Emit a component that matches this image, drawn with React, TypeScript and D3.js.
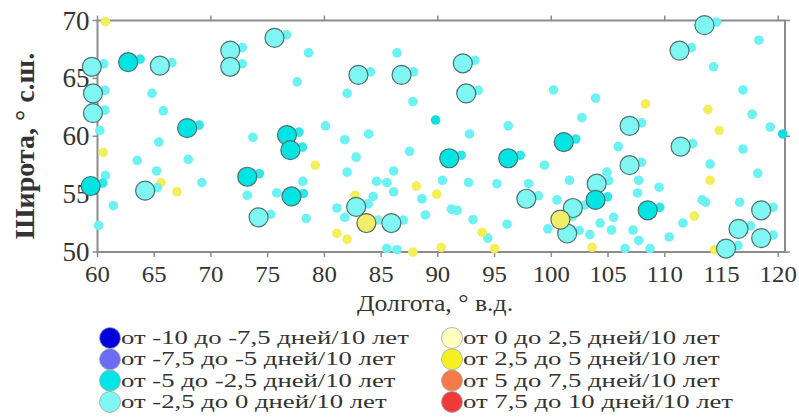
import React from 'react';
import * as d3 from 'd3';

// stations with a significant trend (big circles), [lon, lat]
const sigLight: [number, number][] = [
  [59.5, 66.0], [59.6, 63.7], [59.6, 62.0], [65.5, 66.1], [64.2, 55.3], [71.7, 67.4],
  [71.7, 66.0], [74.2, 53.0], [75.6, 68.5], [83.0, 65.3], [82.8, 53.9], [85.9, 52.5],
  [86.8, 65.3], [92.2, 66.3], [92.5, 63.7], [97.8, 54.6], [101.9, 53.8], [101.4, 51.6],
  [104.0, 55.9], [106.9, 60.9], [106.9, 57.5], [111.3, 67.4], [111.4, 59.1], [113.5, 69.6],
  [115.4, 50.3], [116.5, 52.0], [118.5, 53.6], [118.5, 51.2],
];
const sigCyan: [number, number][] = [
  [59.4, 55.7], [62.7, 66.4], [67.9, 60.7], [73.2, 56.5], [76.7, 60.1], [77.0, 58.8],
  [77.1, 54.8], [91.0, 58.1], [96.2, 58.1], [101.1, 59.5], [103.9, 54.5], [108.5, 53.6],
];
const sigYellow: [number, number][] = [[83.7, 52.5], [100.8, 52.8]];

// other stations (small dots)
const dotsLight: [number, number][] = [
  [60.2, 60.5], [60.7, 56.6], [61.4, 54.0], [60.1, 52.3], [64.8, 63.7], [65.8, 62.2],
  [65.4, 59.5], [63.5, 57.9], [65.2, 57.0], [68.0, 58.0], [69.2, 56.0], [73.7, 59.9],
  [73.2, 54.9], [75.8, 55.1], [77.6, 64.7], [78.6, 67.2], [78.1, 56.1], [78.4, 52.9],
  [80.1, 60.9], [82.0, 63.7], [81.8, 59.7], [82.0, 56.9], [82.8, 58.2], [83.9, 60.2],
  [81.1, 53.8], [81.8, 53.0], [84.3, 54.8], [84.6, 56.1], [85.5, 56.0], [86.1, 55.2],
  [86.4, 67.2], [87.5, 58.7], [86.1, 57.0], [85.5, 50.3], [86.4, 50.2], [87.8, 63.0],
  [88.6, 54.6], [88.9, 53.2], [91.2, 53.7], [91.7, 53.6], [90.4, 56.2], [92.7, 56.0],
  [93.1, 52.8], [94.4, 51.2], [95.2, 55.9], [96.1, 52.4], [98.0, 55.9], [99.4, 57.5],
  [99.7, 52.0], [92.8, 60.2], [96.2, 60.9], [100.2, 64.0], [102.7, 61.6], [103.9, 63.3],
  [105.9, 59.1], [104.9, 56.9], [101.6, 56.2], [100.5, 54.5], [103.4, 51.5], [104.3, 52.5],
  [105.5, 53.0], [105.3, 51.9], [106.5, 50.3], [107.2, 51.9], [107.7, 51.0], [107.7, 56.2],
  [107.6, 55.1], [108.7, 50.3], [109.5, 55.6], [110.4, 51.3], [111.6, 52.5], [114.0, 57.6],
  [113.3, 54.5], [113.6, 54.3], [114.3, 66.0], [116.9, 64.0], [117.7, 61.9], [119.3, 60.8],
  [118.3, 68.3], [116.9, 58.9], [118.2, 56.8], [116.6, 54.3],
];
const dotsCyan: [number, number][] = [[89.8, 61.4], [120.4, 60.2]];
const dotsYellow: [number, number][] = [
  [60.7, 69.9], [60.5, 58.6], [65.6, 56.0], [67.0, 55.2], [79.2, 57.5], [81.1, 51.6],
  [82.0, 51.1], [82.7, 54.9], [88.1, 55.7], [89.9, 55.0], [90.3, 50.4], [87.8, 50.0],
  [93.9, 51.7], [95.0, 50.3], [103.6, 50.4], [108.3, 62.8], [112.6, 53.1], [113.8, 62.3],
  [114.8, 60.5], [114.0, 56.2], [114.4, 50.2],
];

const xTicks = [60, 65, 70, 75, 80, 85, 90, 95, 100, 105, 110, 115, 120];
const yTicks = [50, 55, 60, 65, 70];
const topTicks = [60, 70, 80, 90, 100, 110, 120];
const rightTicks = [50, 60, 70];

const legendLabels = [
  'от -10 до -7,5 дней/10 лет',
  'от -7,5 до -5 дней/10 лет',
  'от -5 до -2,5 дней/10 лет',
  'от -2,5 до 0 дней/10 лет',
  'от 0 до 2,5 дней/10 лет',
  'от 2,5 до 5 дней/10 лет',
  'от 5 до 7,5 дней/10 лет',
  'от 7,5 до 10 дней/10 лет',
];
const legendColors = ['#0000dd', '#6b6bf5', '#00e6e6', '#80f6f4', '#ffffc0', '#f6f020', '#f57a48', '#f03a3a'];

const W = 799;
const H = 418;
const font = '"Liberation Serif", "Times New Roman", serif';
const axisColor = '#8c8c8c';
const textColor = '#333';

export default function App() {
  const x = d3.scaleLinear().domain([60, 120.6]).range([97.5, 785]);
  const y = d3.scaleLinear().domain([50, 70]).range([252, 20.5]);
  const [x0, x1] = x.range();
  const [y0, y1] = y.range();

  const dot = (d: [number, number], fill: string, i: number, key: string, dx = 0, dy = 0) => (
    <circle key={key + i} cx={x(d[0]) + dx} cy={y(d[1]) + dy} r={4.8} fill={fill} />
  );
  const big = (d: [number, number], fill: string, i: number, key: string) => (
    <circle key={key + i} cx={x(d[0])} cy={y(d[1])} r={9.5} fill={fill} stroke="#4f7070" strokeWidth={1.2} />
  );

  return (
    <svg width={W} height={H} style={{ position: 'absolute', left: 0, top: 0, background: '#fff' }}>
      {/* frame */}
      <rect x={x0} y={y1} width={x1 - x0} height={y0 - y1} fill="none" stroke={axisColor} strokeWidth={2} />
      {xTicks.map(t => (
        <g key={'xt' + t}>
          <line x1={x(t)} x2={x(t)} y1={y0} y2={y0 + 5} stroke={axisColor} strokeWidth={1.5} />
          <text transform={`translate(${x(t)}, ${y0 + 30}) scale(1.08, 1)`} textAnchor="middle" fontFamily={font}
            fontSize={23} fill={textColor}>{t}</text>
        </g>
      ))}
      {topTicks.map(t => (
        <line key={'tt' + t} x1={x(t)} x2={x(t)} y1={y1} y2={y1 - 5} stroke={axisColor} strokeWidth={1.5} />
      ))}
      {yTicks.map(t => (
        <g key={'yt' + t}>
          <line x1={x0} x2={x0 - 5} y1={y(t)} y2={y(t)} stroke={axisColor} strokeWidth={1.5} />
          <text x={x0 - 8} y={y(t) + 9} textAnchor="end" fontFamily={font} fontSize={27} fill={textColor}>{t}</text>
        </g>
      ))}
      {rightTicks.map(t => (
        <line key={'rt' + t} x1={x1} x2={x1 + 5} y1={y(t)} y2={y(t)} stroke={axisColor} strokeWidth={1.5} />
      ))}

      {/* small dots */}
      {dotsLight.map((d, i) => dot(d, '#6cf2f2', i, 'dl'))}
      {dotsCyan.map((d, i) => dot(d, '#10dede', i, 'dc'))}
      {dotsYellow.map((d, i) => dot(d, '#f4ee58', i, 'dy'))}
      {/* station marks beside the big circles */}
      {sigLight.map((d, i) => dot(d, '#6cf2f2', i, 'sl', 12, -3))}
      {sigCyan.map((d, i) => dot(d, '#2ee8e8', i, 'sc', 12, -3))}
      {sigYellow.map((d, i) => dot(d, '#80f0e0', i, 'sy', 12, -3))}
      {/* big circles */}
      {sigLight.map((d, i) => big(d, '#80f6f2', i, 'bl'))}
      {sigCyan.map((d, i) => big(d, '#00e4e4', i, 'bc'))}
      {sigYellow.map((d, i) => big(d, '#f2ee6a', i, 'by'))}

      {/* axis titles */}
      <text transform="translate(435, 311) scale(1.12, 1)" textAnchor="middle" fontFamily={font} fontSize={23}
        fill={textColor}>
        Долгота, ° в.д.
      </text>
      <text transform={`translate(34, 146) rotate(-90)`} textAnchor="middle" fontFamily={font}
        fontSize={28} fontWeight="bold" fill={textColor}>
        Широта, ° с.ш.
      </text>

      {/* legend */}
      {legendLabels.map((label, i) => {
        const col = Math.floor(i / 4);
        const row = i % 4;
        const lx = col === 0 ? 110 : 452;
        const ly = 338 + row * 21.3;
        return (
          <g key={'lg' + i}>
            <circle cx={lx} cy={ly} r={10.5} fill={legendColors[i]} stroke="#9aa8a8" strokeWidth={0.8} />
            <text transform={`translate(${lx + 11}, ${ly + 6}) scale(1.37, 1)`} fontFamily={font} fontSize={19.5}
              fill={textColor}>{label}</text>
          </g>
        );
      })}
    </svg>
  );
}
